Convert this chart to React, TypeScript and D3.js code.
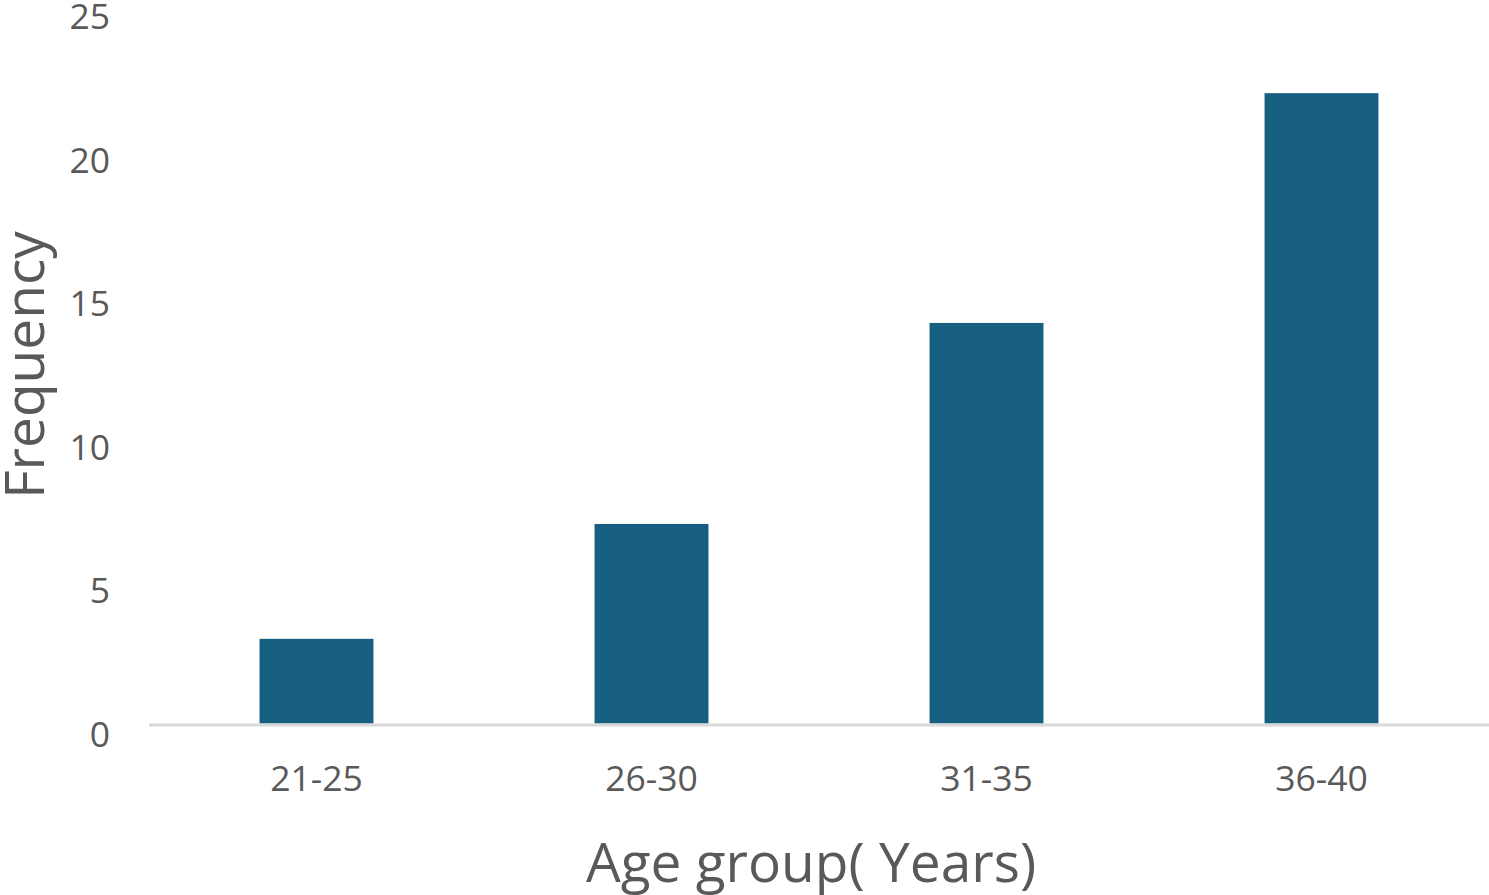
import React from "react";
import * as d3 from "d3";

const categories = ["21-25", "26-30", "31-35", "36-40"];
const values = [3, 7, 14, 22];
const yTicks = [0, 5, 10, 15, 20, 25];

const W = 1489;
const H = 895;
const left = 149;
const right = 1489;
const y0 = 725;
const y25 = 7;

export default function App() {
  const x = d3.scaleBand<string>().domain(categories).range([left, right]).paddingInner(0.66).paddingOuter(0.33);
  const y = d3.scaleLinear().domain([0, 25]).range([y0, y25]);
  const font = "'Open Sans', 'Liberation Sans', sans-serif";
  return (
    <svg width={W} height={H} style={{ position: "absolute", left: 0, top: 0, background: "#fff" }}>
      {categories.map((c, i) => (
        <rect key={c} x={x(c)} y={y(values[i])} width={x.bandwidth()} height={y0 - 1.5 - y(values[i])} fill="#175f80" />
      ))}
      <line x1={left} x2={right} y1={y0} y2={y0} stroke="#d9d9d9" strokeWidth={3} />
      {yTicks.map((t) => (
        <text key={t} x={110} y={y(t) + 8} textAnchor="end" dominantBaseline="central" fontFamily={font} fontSize={35.5} fill="#595959">
          {t}
        </text>
      ))}
      {categories.map((c) => (
        <text key={c} x={(x(c) as number) + x.bandwidth() / 2} y={777} textAnchor="middle" dominantBaseline="central" fontFamily={font} fontSize={35.5} fill="#595959">
          {c}
        </text>
      ))}
      <text x={811} y={860} textAnchor="middle" dominantBaseline="central" fontFamily={font} fontSize={55} fill="#595959">
        Age group( Years)
      </text>
      <text transform="translate(22,365) rotate(-90)" textAnchor="middle" dominantBaseline="central" fontFamily={font} fontSize={55} fill="#595959">
        Frequency
      </text>
    </svg>
  );
}
